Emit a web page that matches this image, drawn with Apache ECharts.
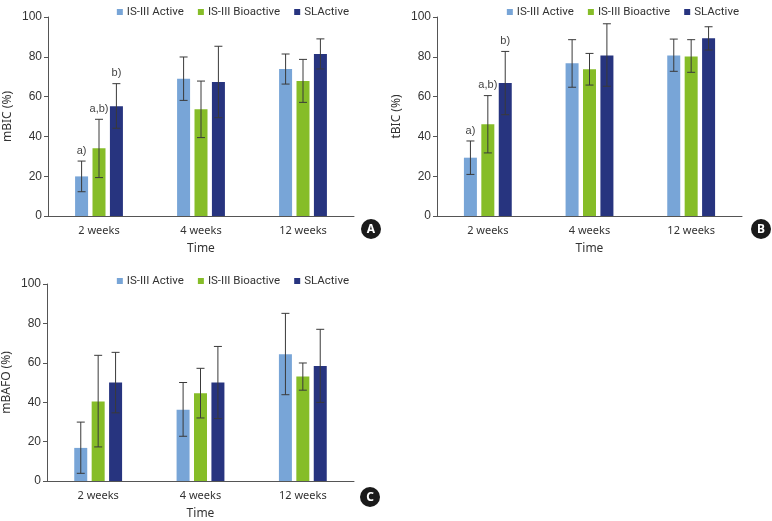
<!DOCTYPE html>
<html>
<head>
<meta charset="utf-8">
<script src="https://cdn.jsdelivr.net/npm/echarts@6/dist/echarts.min.js"></script>
<style>
  html, body { margin: 0; padding: 0; background: #fff; }
  #chart { width: 772px; height: 521px; }
</style>
</head>
<body>
<div id="chart"></div>
<script>
// categories and groups
const categories = ['2 weeks', '4 weeks', '12 weeks'];
const groups = ['IS-III Active', 'IS-III Bioactive', 'SLActive'];
const colors = ['#78a5d7', '#86bd28', '#27347f'];

// panel A - mBIC (mean, lower / upper end of the error bar), one row per group
const mbicMean = [[19.9, 69.0, 73.9], [34.1, 53.6, 67.8], [55.2, 67.3, 81.4]];
const mbicLow  = [[12.2, 58.1, 66.3], [19.3, 39.4, 57.1], [44.1, 49.4, 73.9]];
const mbicHigh = [[27.6, 79.9, 81.4], [48.6, 67.8, 78.7], [66.5, 85.3, 89.0]];
const mbicNotes = [['a)', '', ''], ['a,b)', '', ''], ['b)', '', '']];

// panel B - tBIC
const tbicMean = [[29.3, 76.7, 80.7], [46.1, 73.7, 80.2], [66.8, 80.7, 89.3]];
const tbicLow  = [[20.9, 64.7, 72.7], [31.7, 65.8, 72.2], [50.9, 65.2, 83.4]];
const tbicHigh = [[37.7, 88.6, 88.9], [60.5, 81.7, 88.6], [82.7, 96.6, 95.1]];
const tbicNotes = [['a)', '', ''], ['a,b)', '', ''], ['b)', '', '']];

// panel C - mBAFO
const mbafoMean = [[16.8, 36.2, 64.3], [40.4, 44.6, 53.0], [50.0, 50.0, 58.4]];
const mbafoLow  = [[3.9, 22.7, 43.8], [17.3, 32.0, 46.1], [34.6, 31.7, 39.9]];
const mbafoHigh = [[29.9, 50.0, 85.1], [63.8, 57.2, 59.9], [65.3, 68.3, 77.0]];
const mbafoNotes = [['', '', ''], ['', '', ''], ['', '', '']];

const yTicks = [0, 20, 40, 60, 80, 100];

const panels = [
    { yName: 'mBIC (%)', mean: mbicMean, low: mbicLow, high: mbicHigh, notes: mbicNotes,
      grid: { left: 48, top: 17, width: 306, height: 199 }, legend: { right: 418, top: 1 }, tag: 'A', tagPos: [371, 229] },
    { yName: 'tBIC (%)', mean: tbicMean, low: tbicLow, high: tbicHigh, notes: tbicNotes,
      grid: { left: 437, top: 17, width: 305, height: 199 }, legend: { right: 28, top: 1 }, tag: 'B', tagPos: [761, 229] },
    { yName: 'mBAFO (%)', mean: mbafoMean, low: mbafoLow, high: mbafoHigh, notes: mbafoNotes,
      grid: { left: 47, top: 284, width: 307, height: 199 }, legend: { right: 418, top: 270 }, tag: 'C', tagPos: [370, 497] }
];

const barWidth = 13;
const barStep = 17.4;
const axisColor = '#555';
const textColor = '#333';

const chart = echarts.init(document.getElementById('chart'));

const grids = [], xAxes = [], yAxes = [], legends = [], series = [], graphics = [];

panels.forEach((p, pi) => {
    grids.push(p.grid);
    xAxes.push({
        type: 'category', gridIndex: pi, data: categories,
        name: 'Time', nameLocation: 'middle', nameGap: 27,
        nameTextStyle: { fontSize: 12, color: textColor, fontFamily: 'Noto Sans' },
        axisLine: { lineStyle: { color: axisColor } },
        axisTick: { inside: true, length: 4, lineStyle: { color: axisColor } },
        axisLabel: { fontSize: 11, color: textColor, margin: 9, fontFamily: 'Noto Sans' }
    });
    yAxes.push({
        type: 'value', gridIndex: pi, min: 0, max: 100, interval: 20,
        name: p.yName, nameLocation: 'middle', nameGap: 34, nameRotate: 90,
        nameTextStyle: { fontSize: 12, color: textColor, fontFamily: 'Noto Sans' },
        axisLine: { show: true, lineStyle: { color: axisColor } },
        axisTick: { show: true, length: 4, lineStyle: { color: axisColor } },
        splitLine: { show: false },
        axisLabel: { fontSize: 12, color: textColor, margin: 6, fontFamily: 'Liberation Sans',
            formatter: v => yTicks.indexOf(v) >= 0 ? String(v) : '' }
    });
    legends.push(Object.assign({
        data: groups, icon: 'rect', itemWidth: 6, itemHeight: 6, itemGap: 14,
        textStyle: { fontSize: 11.5, color: textColor, fontFamily: 'Roboto', padding: [0, 0, 0, -1] }
    }, p.legend));

    groups.forEach((g, gi) => {
        series.push({
            name: g, type: 'bar', xAxisIndex: pi, yAxisIndex: pi,
            data: p.mean[gi], barWidth: barWidth, barGap: '34%',
            itemStyle: { color: colors[gi] }, silent: true
        });
    });

    // error bars + significance notes
    const errData = [];
    groups.forEach((g, gi) => {
        categories.forEach((c, ci) => {
            errData.push([ci, p.low[gi][ci], p.high[gi][ci], gi]);
        });
    });
    series.push({
        type: 'custom', xAxisIndex: pi, yAxisIndex: pi, z: 5, silent: true,
        data: errData,
        encode: { x: 0, y: [1, 2] },
        renderItem: (params, api) => {
            const ci = api.value(0), gi = api.value(3);
            const lo = api.coord([ci, api.value(1)]);
            const hi = api.coord([ci, api.value(2)]);
            const x = lo[0] + (gi - 1) * barStep;
            const cap = 4;
            const st = { stroke: '#3a3a3a', lineWidth: 1 };
            const children = [
                { type: 'line', shape: { x1: x, y1: lo[1], x2: x, y2: hi[1] }, style: st },
                { type: 'line', shape: { x1: x - cap, y1: lo[1], x2: x + cap, y2: lo[1] }, style: st },
                { type: 'line', shape: { x1: x - cap, y1: hi[1], x2: x + cap, y2: hi[1] }, style: st }
            ];
            const note = p.notes[gi][ci];
            if (note) {
                children.push({
                    type: 'text',
                    style: { text: note, x: x, y: hi[1] - 5, align: 'center', verticalAlign: 'bottom',
                        fontSize: 11, fill: '#444', fontFamily: 'Liberation Sans Narrow, Liberation Sans' }
                });
            }
            return { type: 'group', children: children };
        }
    });

    graphics.push({
        type: 'circle', shape: { cx: p.tagPos[0], cy: p.tagPos[1], r: 10 },
        style: { fill: '#1a1a1a' }
    });
    graphics.push({
        type: 'text', x: p.tagPos[0], y: p.tagPos[1] + 1,
        style: { text: p.tag, fill: '#fff', fontSize: 12, fontWeight: 'bold',
            align: 'center', verticalAlign: 'middle', fontFamily: 'Noto Sans' }
    });
});

chart.setOption({
    animation: false,
    backgroundColor: '#fff',
    grid: grids,
    xAxis: xAxes,
    yAxis: yAxes,
    legend: legends,
    series: series,
    graphic: graphics
});
</script>
</body>
</html>
